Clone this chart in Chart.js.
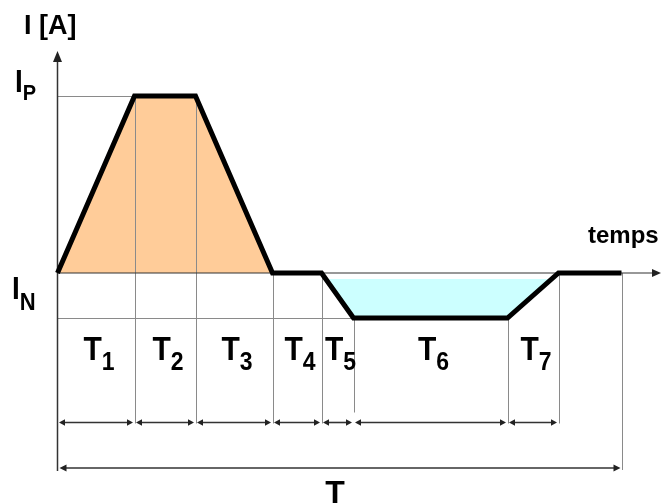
<!DOCTYPE html>
<html><head><meta charset="utf-8">
<script src="https://cdn.jsdelivr.net/npm/chart.js@4"></script>
<style>html,body{margin:0;padding:0;background:#fff}canvas{display:block}</style>
</head><body>
<canvas id="c" width="662" height="503"></canvas>
<script>
// ---- data (time units / current units) ----
const phaseNames = ['1', '2', '3', '4', '5', '6', '7'];
const phaseDurations = [77, 61, 77, 49, 32, 154, 51];
const tailDuration = 63;
const I_P = 177;      // peak current
const I_BASE = 0;     // base current (time axis)
const I_LOW = -45;    // low current
const currentAtBoundary = [I_BASE, I_P, I_P, I_BASE, I_BASE, I_LOW, I_LOW, I_BASE, I_BASE];
const axisLabels = { y: 'I [A]', x: 'temps', total: 'T' };

// ---- derived ----
const boundaries = [0];
phaseDurations.forEach(d => boundaries.push(boundaries[boundaries.length - 1] + d));
boundaries.push(boundaries[boundaries.length - 1] + tailDuration);
const wavePts = boundaries.map((t, i) => ({ x: t, y: currentAtBoundary[i] }));
const peakPts = wavePts.slice(0, 4);
const lerpX = (a, b, y) => a.x + (b.x - a.x) * (y - a.y) / (b.y - a.y);
const cyanTop = I_BASE - 6;
const troughPts = [
  { x: lerpX(wavePts[4], wavePts[5], cyanTop) + 2, y: cyanTop },
  { x: wavePts[5].x, y: I_LOW },
  { x: wavePts[6].x, y: I_LOW },
  { x: lerpX(wavePts[6], wavePts[7], cyanTop) - 2, y: cyanTop }
];
const DIM_Y = -149.5, TOTAL_Y = -195;

function arrowHead(ctx, x, y, dir, len, hw) {
  ctx.beginPath();
  ctx.moveTo(x, y);
  ctx.lineTo(x - dir * len, y - hw);
  ctx.lineTo(x - dir * len, y + hw);
  ctx.closePath();
  ctx.fill();
}
function seg(ctx, x1, y1, x2, y2) {
  ctx.beginPath(); ctx.moveTo(x1, y1); ctx.lineTo(x2, y2); ctx.stroke();
}
function stretchText(ctx, txt, x, base, s) {
  ctx.save(); ctx.translate(x, base); ctx.scale(1, s); ctx.fillText(txt, 0, 0); ctx.restore();
}
function subText(ctx, main, sub, x, base, mainFont, subFont, subDrop, centered, s) {
  ctx.font = mainFont; const w1 = ctx.measureText(main).width;
  ctx.font = subFont; const w2 = ctx.measureText(sub).width;
  const left = centered ? x - (w1 + w2) / 2 : x;
  ctx.textAlign = 'left'; ctx.textBaseline = 'alphabetic';
  ctx.font = mainFont; stretchText(ctx, main, left, base, s);
  ctx.font = subFont; stretchText(ctx, sub, left + w1, base + subDrop, s);
}

const decor = {
  id: 'decor',
  beforeDatasetDraw(chart, args) {
    if (chart.data.datasets[args.index].label !== 'courant') return;
    const ctx = chart.ctx, X = v => chart.scales.x.getPixelForValue(v), Y = v => chart.scales.y.getPixelForValue(v);
    ctx.save();
    // horizontal level guides
    ctx.strokeStyle = '#8a8a8a'; ctx.lineWidth = 1;
    seg(ctx, X(0), Math.round(Y(I_P)) + 0.5, X(boundaries[1]), Math.round(Y(I_P)) + 0.5);
    seg(ctx, X(0), Math.round(Y(I_LOW)) + 0.5, X(boundaries[5]), Math.round(Y(I_LOW)) + 0.5);
    // vertical guides
    for (let i = 1; i < boundaries.length; i++) {
      const x = Math.round(X(boundaries[i])) + 0.5;
      let bottom = Y(DIM_Y) + 1;
      if (i === 5) bottom = Y(DIM_Y) - 10;
      if (i === boundaries.length - 1) bottom = Y(TOTAL_Y) + 2;
      seg(ctx, x, Y(currentAtBoundary[i]), x, bottom);
    }
    // axes
    ctx.strokeStyle = '#333'; ctx.fillStyle = '#222'; ctx.lineWidth = 1.5;
    const x0 = X(0);
    seg(ctx, x0, Y(TOTAL_Y) + 3, x0, 58);
    ctx.beginPath(); ctx.moveTo(x0, 51); ctx.lineTo(x0 - 4.5, 62); ctx.lineTo(x0 + 4.5, 62); ctx.closePath(); ctx.fill();
    ctx.lineWidth = 1.2;
    seg(ctx, x0, Y(I_BASE), 655, Y(I_BASE));
    arrowHead(ctx, 661, Y(I_BASE), 1, 9, 4);
    // dimension arrows
    ctx.lineWidth = 1.6; ctx.strokeStyle = '#333'; ctx.fillStyle = '#222';
    const dy = Y(DIM_Y);
    for (let i = 0; i < phaseDurations.length; i++) {
      const a = X(boundaries[i]) + 1.5, b = X(boundaries[i + 1]) - 1.5;
      seg(ctx, a + 3, dy, b - 3, dy);
      arrowHead(ctx, a, dy, -1, 6, 3.2);
      arrowHead(ctx, b, dy, 1, 6, 3.2);
    }
    const ty = Y(TOTAL_Y);
    const a = X(0) + 2, b = X(boundaries[boundaries.length - 1]) - 1;
    seg(ctx, a + 3, ty, b - 3, ty);
    arrowHead(ctx, a, ty, -1, 7, 3.5);
    arrowHead(ctx, b, ty, 1, 7, 3.5);
    ctx.restore();
  },
  afterDraw(chart) {
    const ctx = chart.ctx, X = v => chart.scales.x.getPixelForValue(v);
    ctx.save();
    ctx.fillStyle = '#000';
    const F = 'Arial, "Liberation Sans", sans-serif';
    // phase labels
    for (let i = 0; i < phaseNames.length; i++) {
      const cx = (X(boundaries[i]) + X(boundaries[i + 1])) / 2 + 3;
      subText(ctx, 'T', phaseNames[i], cx, 360, 'bold 30px ' + F, 'bold 23px ' + F, 10, true, 1.12);
    }
    // level labels
    subText(ctx, 'I', 'P', 15, 92, 'bold 28px ' + F, 'bold 20px ' + F, 8, false, 1.12);
    subText(ctx, 'I', 'N', 12, 299, 'bold 28px ' + F, 'bold 22px ' + F, 11, false, 1.12);
    // axis titles
    ctx.textAlign = 'left'; ctx.textBaseline = 'alphabetic';
    ctx.font = 'bold 27px ' + F; ctx.fillText(axisLabels.y, 24, 34);
    ctx.font = 'bold 24px ' + F; ctx.fillText(axisLabels.x, 588, 243);
    ctx.textAlign = 'center';
    ctx.font = 'bold 32px ' + F; ctx.fillText(axisLabels.total, 335, 503);
    ctx.restore();
  }
};

new Chart(document.getElementById('c'), {
  type: 'line',
  data: {
    datasets: [
      { label: 'pic', data: peakPts, fill: { value: I_BASE }, backgroundColor: '#FFCC99', borderWidth: 0, pointRadius: 0, order: 3 },
      { label: 'creux', data: troughPts, fill: { value: cyanTop }, backgroundColor: '#CCFFFF', borderWidth: 0, pointRadius: 0, order: 2 },
      { label: 'courant', data: wavePts, borderColor: '#000', borderWidth: 5, fill: false, pointRadius: 0, order: 1,
        borderJoinStyle: 'miter', borderCapStyle: 'butt', tension: 0 }
    ]
  },
  options: {
    responsive: false,
    animation: false,
    layout: { padding: 0 },
    scales: {
      x: { type: 'linear', min: -57.5, max: 604.5, display: false },
      y: { type: 'linear', min: -230, max: 273, display: false }
    },
    plugins: { legend: { display: false }, tooltip: { enabled: false } },
    events: []
  },
  plugins: [decor]
});
</script>
</body></html>
